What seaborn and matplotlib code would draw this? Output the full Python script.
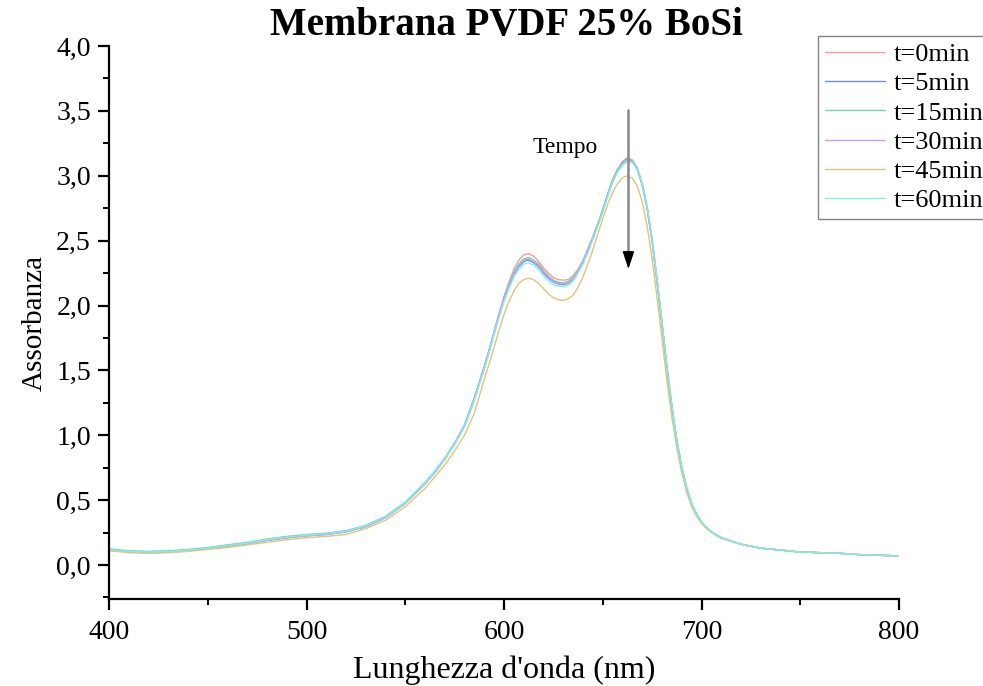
import numpy as np
import pandas as pd
import matplotlib
matplotlib.use("Agg")
import matplotlib.pyplot as plt
from matplotlib.ticker import MultipleLocator, FuncFormatter
import seaborn as sns

wavelength = [400, 410, 420, 430, 440, 450, 460, 470, 480, 490, 500, 510, 520, 530, 540, 550, 560,
              565, 570, 575, 580, 585,
              590, 592.5, 595, 597.5, 600, 602.5, 605, 607.5, 610, 612.5, 615, 617.5, 620, 622.5, 625, 627.5,
              630, 632.5, 635, 637.5, 640, 642.5, 645, 647.5, 650, 652.5, 655, 657.5, 660, 662.5, 665, 667.5,
              670, 672.5, 675, 677.5, 680, 682.5, 685, 687.5, 690, 692.5, 695, 697.5, 700, 702.5, 705, 707.5, 710,
              720, 730, 740, 750, 760, 770, 780, 790, 800]

t0 = [0.12, 0.105, 0.10, 0.105, 0.115, 0.13, 0.15, 0.17, 0.195, 0.215, 0.23, 0.24, 0.26, 0.30, 0.37, 0.48, 0.63,
      0.72, 0.82, 0.94, 1.08, 1.29,
      1.53, 1.66, 1.80, 1.94, 2.07, 2.18, 2.28, 2.35, 2.39, 2.40, 2.38, 2.34, 2.29, 2.25, 2.215, 2.20,
      2.195, 2.20, 2.23, 2.28, 2.35, 2.44, 2.53, 2.63, 2.74, 2.86, 2.97, 3.05, 3.11, 3.14, 3.12, 3.05,
      2.93, 2.74, 2.49, 2.18, 1.85, 1.51, 1.21, 0.95, 0.75, 0.59, 0.47, 0.39, 0.33, 0.29, 0.255, 0.23, 0.21,
      0.16, 0.13, 0.115, 0.10, 0.095, 0.09, 0.08, 0.075, 0.07]

t5 = [0.115, 0.10, 0.095, 0.10, 0.11, 0.125, 0.145, 0.165, 0.19, 0.21, 0.225, 0.235, 0.255, 0.295, 0.365, 0.475, 0.625,
      0.715, 0.815, 0.935, 1.07, 1.28,
      1.52, 1.65, 1.79, 1.92, 2.05, 2.15, 2.24, 2.30, 2.34, 2.35, 2.33, 2.30, 2.25, 2.21, 2.18, 2.165,
      2.16, 2.17, 2.20, 2.26, 2.33, 2.42, 2.52, 2.62, 2.73, 2.85, 2.96, 3.04, 3.10, 3.13, 3.11, 3.05,
      2.93, 2.75, 2.50, 2.19, 1.86, 1.52, 1.22, 0.96, 0.75, 0.59, 0.47, 0.39, 0.33, 0.29, 0.255, 0.23, 0.21,
      0.16, 0.13, 0.115, 0.10, 0.095, 0.09, 0.08, 0.075, 0.07]

t15 = [0.125, 0.11, 0.105, 0.11, 0.12, 0.135, 0.155, 0.175, 0.20, 0.22, 0.235, 0.245, 0.265, 0.305, 0.375, 0.485, 0.635,
       0.725, 0.825, 0.94, 1.08, 1.29,
       1.53, 1.66, 1.80, 1.93, 2.06, 2.17, 2.26, 2.32, 2.36, 2.37, 2.35, 2.32, 2.27, 2.23, 2.195, 2.18,
       2.175, 2.185, 2.215, 2.27, 2.34, 2.43, 2.53, 2.63, 2.74, 2.86, 2.97, 3.05, 3.10, 3.13, 3.12, 3.06,
       2.94, 2.76, 2.51, 2.20, 1.87, 1.53, 1.23, 0.96, 0.76, 0.60, 0.475, 0.39, 0.33, 0.29, 0.255, 0.23, 0.21,
       0.16, 0.13, 0.115, 0.10, 0.095, 0.09, 0.08, 0.075, 0.07]

t30 = [0.115, 0.10, 0.095, 0.10, 0.11, 0.125, 0.145, 0.165, 0.19, 0.21, 0.225, 0.235, 0.255, 0.295, 0.365, 0.475, 0.625,
       0.715, 0.815, 0.935, 1.07, 1.28,
       1.52, 1.65, 1.79, 1.93, 2.05, 2.16, 2.25, 2.31, 2.35, 2.36, 2.34, 2.31, 2.26, 2.22, 2.185, 2.17,
       2.165, 2.175, 2.205, 2.26, 2.33, 2.42, 2.52, 2.62, 2.73, 2.85, 2.96, 3.04, 3.09, 3.12, 3.11, 3.05,
       2.93, 2.75, 2.50, 2.19, 1.86, 1.52, 1.22, 0.96, 0.75, 0.59, 0.47, 0.39, 0.33, 0.29, 0.255, 0.23, 0.21,
       0.16, 0.13, 0.115, 0.10, 0.095, 0.09, 0.08, 0.075, 0.07]

t45 = [0.11, 0.095, 0.09, 0.095, 0.105, 0.12, 0.135, 0.155, 0.175, 0.195, 0.21, 0.22, 0.235, 0.28, 0.345, 0.45, 0.59,
       0.68, 0.77, 0.88, 1.00, 1.17,
       1.43, 1.55, 1.68, 1.81, 1.93, 2.03, 2.11, 2.17, 2.20, 2.21, 2.20, 2.17, 2.13, 2.09, 2.06, 2.045,
       2.04, 2.05, 2.08, 2.14, 2.22, 2.32, 2.43, 2.55, 2.67, 2.78, 2.87, 2.94, 2.985, 3.00, 2.98, 2.92,
       2.80, 2.61, 2.36, 2.06, 1.74, 1.42, 1.14, 0.90, 0.71, 0.56, 0.45, 0.375, 0.32, 0.28, 0.25, 0.225, 0.205,
       0.16, 0.13, 0.115, 0.10, 0.095, 0.09, 0.08, 0.075, 0.07]

t60 = [0.12, 0.105, 0.10, 0.105, 0.115, 0.13, 0.15, 0.17, 0.195, 0.215, 0.23, 0.24, 0.26, 0.30, 0.37, 0.48, 0.63,
       0.72, 0.82, 0.93, 1.07, 1.27,
       1.51, 1.64, 1.78, 1.91, 2.03, 2.13, 2.22, 2.28, 2.32, 2.33, 2.31, 2.28, 2.23, 2.19, 2.16, 2.15,
       2.145, 2.155, 2.19, 2.25, 2.32, 2.41, 2.51, 2.61, 2.72, 2.84, 2.95, 3.03, 3.08, 3.11, 3.10, 3.05,
       2.94, 2.76, 2.51, 2.20, 1.87, 1.53, 1.23, 0.96, 0.76, 0.60, 0.475, 0.39, 0.33, 0.29, 0.255, 0.23, 0.21,
       0.16, 0.13, 0.115, 0.10, 0.095, 0.09, 0.08, 0.075, 0.07]

labels = ["t=0min", "t=5min", "t=15min", "t=30min", "t=45min", "t=60min"]
series = [t0, t5, t15, t30, t45, t60]
colors = ["#f59a9a", "#6a8ee0", "#74d6a2", "#c8a0f2", "#e2c47a", "#7eeeee"]

frames = []
for lab, vals in zip(labels, series):
    frames.append(pd.DataFrame({"wl": wavelength, "abs": vals, "t": lab}))
df = pd.concat(frames, ignore_index=True)

sns.set_theme(style="ticks")
plt.rcParams["font.family"] = ["Liberation Serif", "DejaVu Serif"]
plt.rcParams["text.color"] = "black"
plt.rcParams["axes.labelcolor"] = "black"
plt.rcParams["xtick.color"] = "black"
plt.rcParams["ytick.color"] = "black"
plt.rcParams["xtick.labelcolor"] = "black"
plt.rcParams["ytick.labelcolor"] = "black"

fig = plt.figure(figsize=(9.83, 6.86), dpi=100)
ax = fig.add_axes([109 / 983, 1 - 599 / 686, (899 - 109) / 983, (599 - 46) / 686])

sns.lineplot(data=df, x="wl", y="abs", hue="t", hue_order=labels, palette=colors,
             estimator=None, sort=False, linewidth=1.0, ax=ax, legend=False)

ax.set_xlim(400, 800)
ax.set_ylim(-0.262, 4.0)
ax.xaxis.set_major_locator(MultipleLocator(100))
ax.xaxis.set_minor_locator(MultipleLocator(50))
ax.yaxis.set_major_locator(MultipleLocator(0.5))
ax.yaxis.set_minor_locator(MultipleLocator(0.25))
ax.yaxis.set_major_formatter(FuncFormatter(lambda v, p: f"{v:.1f}".replace(".", ",")))
ax.tick_params(axis="both", which="major", direction="out", length=8, width=1.6, labelsize=20,
               color="black", labelcolor="black")
ax.tick_params(axis="x", which="major", pad=7)
ax.tick_params(axis="y", which="major", pad=5)
ax.tick_params(axis="both", which="minor", direction="out", length=4, width=1.4, color="black")
for s in ["top", "right"]:
    ax.spines[s].set_visible(False)
for s in ["left", "bottom"]:
    ax.spines[s].set_linewidth(1.6)
    ax.spines[s].set_color("black")

ax.set_xlabel("Lunghezza d'onda (nm)", fontsize=23, labelpad=8, color="black")
ax.set_ylabel("Assorbanza", fontsize=21, labelpad=6, color="black")
fig.text(506 / 983, 1 - 25 / 686, "Membrana PVDF 25% BoSi", fontsize=28, fontweight="bold",
         ha="center", va="center", color="black")

# Arrow "Tempo"
ax.plot([663, 663], [3.51, 2.40], color="#888888", linewidth=1.8)
ax.annotate("", xy=(663, 2.26), xytext=(663, 2.42),
            arrowprops=dict(arrowstyle="-|>,head_width=0.3,head_length=0.9", color="black", lw=1.0))
ax.text(631, 3.22, "Tempo", fontsize=17, ha="center", va="center", color="black")

handles = [plt.Line2D([], [], color=c, linewidth=1.0) for c in colors]
leg = fig.legend(handles, labels, loc="upper left", bbox_to_anchor=(818 / 983, 1 - 36 / 686),
                 fontsize=19, frameon=True, fancybox=False, handlelength=2.3, handletextpad=0.3,
                 labelspacing=0.22, borderpad=0.25, borderaxespad=0)
leg.get_frame().set_edgecolor("#666666")
leg.get_frame().set_linewidth(1.0)
for txt in leg.get_texts():
    txt.set_color("black")

fig.savefig("out.png", dpi=100)
